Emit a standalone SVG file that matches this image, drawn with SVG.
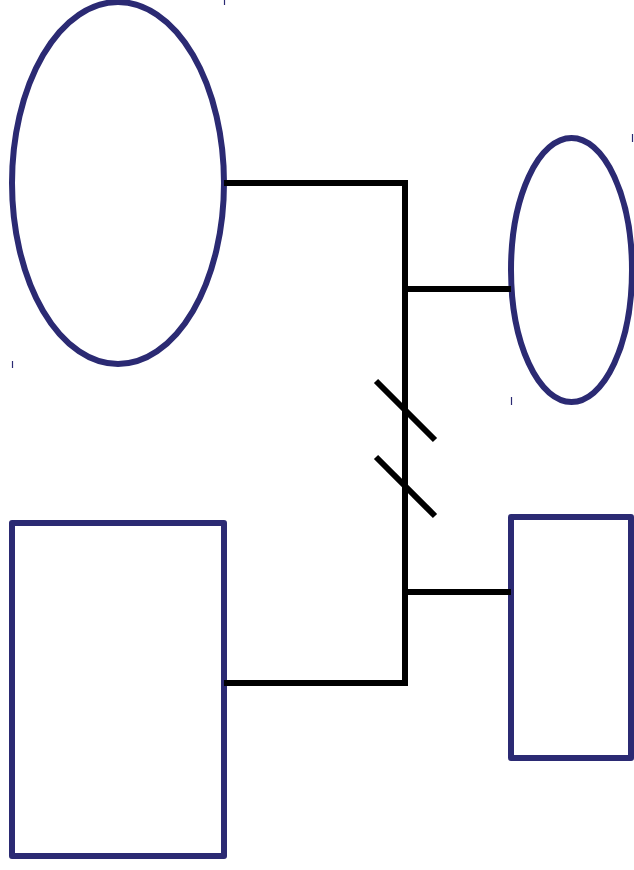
<svg xmlns="http://www.w3.org/2000/svg" width="634" height="870" viewBox="0 0 634 870">
<style>
.n{fill:none;stroke:#2b2a73;stroke-width:6;stroke-linejoin:round}
.t{stroke:#2b2a73;stroke-width:1.2}
.c{fill:none;stroke:#000;stroke-width:6}
</style>
<rect width="634" height="870" fill="#fff"/>
<g id="node-ellipse-large">
<ellipse class="n" cx="118" cy="183" rx="106" ry="181"/>
<line class="t" x1="224.5" y1="0" x2="224.5" y2="5"/>
<line class="t" x1="12.5" y1="361" x2="12.5" y2="368"/>
</g>
<g id="node-ellipse-small">
<ellipse class="n" cx="571.5" cy="270" rx="60.5" ry="132"/>
<line class="t" x1="632.5" y1="134" x2="632.5" y2="142"/>
<line class="t" x1="511.5" y1="397" x2="511.5" y2="405"/>
</g>
<g id="node-rect-large">
<rect class="n" x="12" y="523" width="212" height="333"/>
</g>
<g id="node-rect-small">
<rect class="n" x="511" y="517" width="120" height="241"/>
</g>
<g id="connectors">
<polyline class="c" points="224,183 405,183 405,683 224,683"/>
<line class="c" x1="405" y1="289" x2="511" y2="289"/>
<line class="c" x1="405" y1="592" x2="511" y2="592"/>
<line class="c" x1="376" y1="381" x2="435" y2="440"/>
<line class="c" x1="376" y1="457" x2="435" y2="516"/>
</g>
</svg>
